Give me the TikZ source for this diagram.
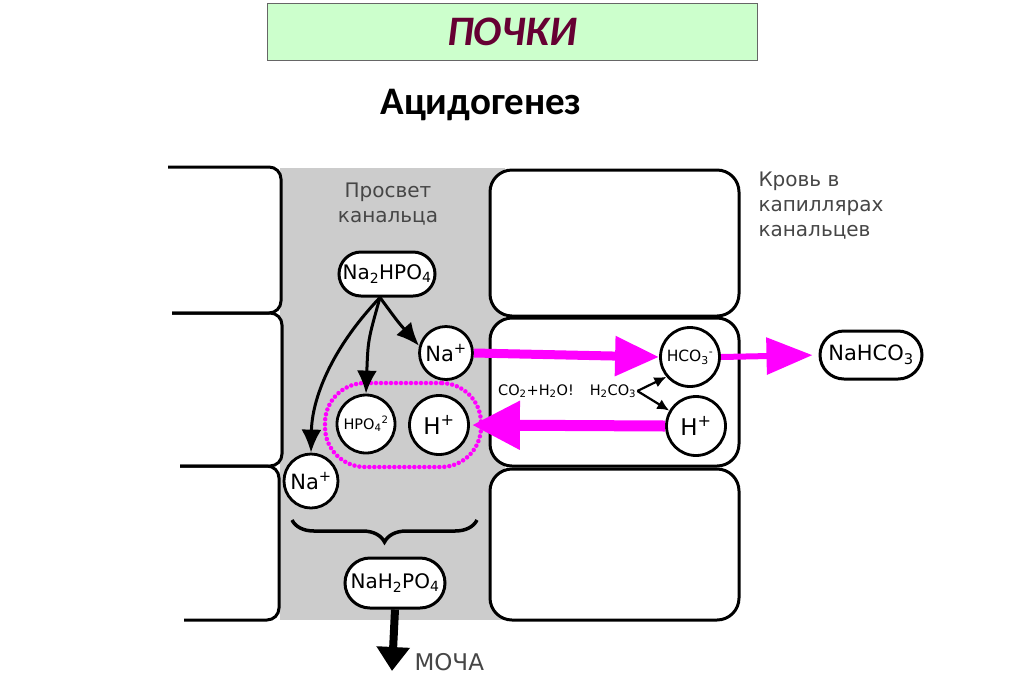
\documentclass[tikz,border=0pt]{standalone}
\usepackage{fontspec}
\setmainfont{DejaVu Sans}
\newfontfamily\carlito{Carlito}
\usetikzlibrary{arrows.meta,decorations.pathreplacing,shapes.misc}
\definecolor{titlegreen}{RGB}{204,255,204}
\definecolor{titlemaroon}{RGB}{102,0,51}
\definecolor{lumengray}{RGB}{204,204,204}
\definecolor{mag}{RGB}{255,0,255}
\definecolor{lbl}{RGB}{70,70,70}
\begin{document}
\begin{tikzpicture}[x=1pt,y=-1pt,
 cellline/.style={line width=3pt, rounded corners=12pt},
 rcell/.style={draw, line width=3pt, rounded corners=22pt, fill=white},
 ion/.style={circle, draw, line width=2.8pt, fill=white, inner sep=0pt, font=\fontsize{21}{22}\selectfont},
 pill/.style={rounded rectangle, draw, line width=3pt, fill=white, inner sep=0pt, font=\fontsize{20}{22}\selectfont},
 blk/.style={line width=3pt, -{Latex[length=23pt,width=20pt]}},
 smallblk/.style={line width=2.2pt, -{Latex[length=12pt,width=11pt]}},
 lbltext/.style={text=lbl, font=\fontsize{20}{25}\selectfont}
]
\useasboundingbox (0,0) rectangle (1024,681);
\fill[white] (0,0) rectangle (1024,681);

% title
\node[draw=black!60, line width=1pt, fill=titlegreen, minimum width=490pt, minimum height=57pt, inner sep=0pt,
      text=titlemaroon, font=\carlito\bfseries\itshape\fontsize{42}{44}\selectfont] (title) at (512,31.5) {ПОЧКИ};
\node[font=\carlito\bfseries\fontsize{39}{40}\selectfont] (sub) at (481,105) {Ацидогенез};

% lumen
\fill[lumengray] (280,168) rectangle (505,620);

% left cells (open on the left)
\draw[cellline] (168,167) -- (281,167) -- (281,313) -- (172,313);
\draw[cellline] (172,313) -- (282,313) -- (282,466) -- (180,466);
\draw[cellline] (180,466) -- (279,466) -- (279,620) -- (184,620);

% right cells
\draw[rcell] (490,170) rectangle (739,316);
\draw[rcell] (490,318) rectangle (739,466);
\draw[rcell] (490,469) rectangle (739,620);

% labels
\node[lbltext, align=center] (lumenlbl) at (388,204) {Просвет\\канальца};
\node[lbltext, align=left, anchor=north west] (bloodlbl) at (755,168) {Кровь в\\капиллярах\\канальцев};

% species
\node[pill, minimum width=96pt, minimum height=44pt] (na2hpo4) at (387,274) {Na\textsubscript{2}HPO\textsubscript{4}};
\node[ion, minimum size=53pt] (naup) at (446,353) {Na\textsuperscript{+}};
\node[ion, minimum size=58pt, font=\fontsize{14.5}{15}\selectfont] (hpo) at (366,424) {HPO\textsubscript{4}\textsuperscript{2}};
\node[ion, minimum size=59pt, font=\fontsize{23}{24}\selectfont] (hl) at (439,425) {H\textsuperscript{+}};
\node[ion, minimum size=54pt] (nalow) at (311,481) {Na\textsuperscript{+}};
\node[ion, minimum size=59pt, font=\fontsize{15.5}{16}\selectfont] (hco) at (690,357) {HCO\textsubscript{3}\textsuperscript{-}};
\node[ion, minimum size=59pt, font=\fontsize{23}{24}\selectfont] (hr) at (696,426) {H\textsuperscript{+}};
\node[pill, minimum width=102pt, minimum height=48pt, font=\fontsize{21}{22}\selectfont] (nahco) at (871,355) {NaHCO\textsubscript{3}};
\node[pill, minimum width=100pt, minimum height=50pt] (nah2po) at (395,583) {NaH\textsubscript{2}PO\textsubscript{4}};

\node[font=\fontsize{14.5}{15}\selectfont, inner sep=1pt] (co2) at (536,391) {CO\textsubscript{2}+H\textsubscript{2}O!};
\node[font=\fontsize{14.5}{15}\selectfont, inner sep=1pt] (h2co3) at (613,391) {H\textsubscript{2}CO\textsubscript{3}};

% dotted group
\node[draw=mag, line width=4.5pt, dash pattern=on 0pt off 5pt, line cap=round, rounded corners=40pt,
      minimum width=156pt, minimum height=84pt] (grp) at (403,425) {};

% black arrows
\draw[blk] ([xshift=-7pt]na2hpo4.south) .. controls (398,322) .. (naup.165);
\draw[blk] ([xshift=-7pt]na2hpo4.south) .. controls (368,340) .. (hpo.north);
\draw[blk] ([xshift=-7pt]na2hpo4.south) .. controls (330,350) and (312,400) .. (nalow.north);
\draw[smallblk] (h2co3.east) -- (hco.220);
\draw[smallblk] (h2co3.east) -- (hr.150);

% magenta arrows
\draw[mag, line width=9pt, -{Triangle[length=44pt,width=38pt]}] (naup.east) -- (hco.west);
\draw[mag, line width=6pt, -{Triangle[length=46pt,width=36pt]}, shorten >=6pt] (hco.east) -- (nahco.west);
\draw[mag, line width=11pt, -{Triangle[length=48pt,width=46pt]}, shorten >=2pt] (hr.west) -- (hl.east);

% brace
\coordinate (braceL) at (292,520);
\coordinate (braceR) at (477,520);
\draw[line width=3.5pt, decorate, decoration={brace, amplitude=22pt, mirror}] (braceL) -- (braceR);

% urine
\coordinate (urine) at (392,671);
\draw[line width=8pt, -{Triangle[length=24pt,width=32pt]}] (nah2po.south) -- (urine);
\node[text=lbl, font=\fontsize{23}{24}\selectfont, anchor=west] (mocha) at (411,662) {МОЧА};
\end{tikzpicture}
\end{document}
